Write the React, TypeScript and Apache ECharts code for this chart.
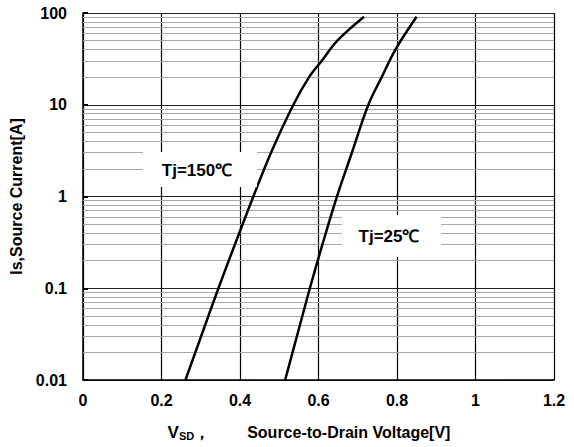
import React, { useEffect, useRef } from "react";
import * as echarts from "echarts";

// Tj = 150 ℃ curve: source-to-drain voltage [V] vs source current [A]
const v150 = [0.261, 0.301, 0.345, 0.387, 0.434, 0.479, 0.536, 0.576, 0.608, 0.648, 0.716];
const i150 = [0.01, 0.03, 0.1, 0.3, 1, 3, 10, 20, 30, 50, 91];

// Tj = 25 ℃ curve
const v25 = [0.515, 0.545, 0.578, 0.61, 0.647, 0.685, 0.727, 0.761, 0.796, 0.85];
const i25 = [0.01, 0.03, 0.1, 0.3, 1, 3, 10, 20, 40, 91];

const xTickLabels = ["0", "0.2", "0.4", "0.6", "0.8", "1", "1.2"];
const yTickLabels = ["0.01", "0.1", "1", "10", "100"];
const decades = [0.01, 0.1, 1, 10];
const minorMultipliers = [2, 3, 4, 5, 6, 7, 8, 9];

const FONT = '"Liberation Sans", Arial, Helvetica, sans-serif';

export default function App() {
  const ref = useRef<HTMLDivElement>(null);

  useEffect(() => {
    if (!ref.current) return;
    const chart = echarts.init(ref.current, null, { renderer: "svg" });

    const minorValues: number[] = [];
    decades.forEach((d) =>
      minorMultipliers.forEach((m) => minorValues.push(parseFloat((d * m).toPrecision(3))))
    );

    chart.setOption({
      animation: false,
      backgroundColor: "#fff",
      textStyle: { fontFamily: FONT },
      grid: { left: 83, right: 20, top: 13, bottom: 67, containLabel: false },
      xAxis: {
        type: "value",
        min: 0,
        max: 1.2,
        interval: 0.2,
        axisLine: { show: true, onZero: false, lineStyle: { color: "#000", width: 1.5 } },
        axisTick: { show: false },
        axisLabel: {
          margin: 12,
          fontSize: 16,
          fontWeight: "bold",
          color: "#000",
          fontFamily: FONT,
          formatter: (v: number) => xTickLabels[Math.round(v / 0.2)] ?? "",
        },
        splitLine: { show: true, lineStyle: { color: "#000", width: 1.2 } },
        name: "{v|V}{s|SD}{c|，}{t|Source-to-Drain Voltage[V]}",
        nameLocation: "middle",
        nameGap: 44,
        nameTextStyle: {
          fontFamily: FONT,
          fontWeight: "bold",
          fontSize: 16,
          color: "#000",
          padding: [0, 19, 0, 0],
          rich: {
            v: { fontSize: 17, fontWeight: "bold", color: "#000", fontFamily: FONT },
            s: { fontSize: 11, fontWeight: "bold", color: "#000", fontFamily: FONT, verticalAlign: "bottom" },
            c: { fontSize: 16, fontWeight: "bold", color: "#000", fontFamily: FONT },
            t: { fontSize: 16, fontWeight: "bold", color: "#000", fontFamily: FONT, padding: [0, 0, 0, 37] },
          },
        },
      },
      yAxis: {
        type: "log",
        logBase: 10,
        min: 0.01,
        max: 100,
        axisLine: { show: true, onZero: false, lineStyle: { color: "#000", width: 1.5 } },
        axisTick: { show: true, inside: true, length: 5, lineStyle: { color: "#000", width: 2 } },
        axisLabel: {
          margin: 16,
          fontSize: 16,
          fontWeight: "bold",
          color: "#000",
          fontFamily: FONT,
          formatter: (v: number) => yTickLabels[Math.round(Math.log10(v)) + 2] ?? "",
        },
        splitLine: { show: true, lineStyle: { color: "#222", width: 1.2 } },
        minorTick: { show: false },
        minorSplitLine: { show: false },
        name: "Is,Source Current[A]",
        nameLocation: "middle",
        nameGap: 53,
        nameTextStyle: { fontFamily: FONT, fontWeight: "bold", fontSize: 16, color: "#000" },
      },
      graphic: [
        { type: "rect", z: 100, shape: { x: 143, y: 152, width: 114, height: 35 }, style: { fill: "#fff" } },
        {
          type: "text",
          z: 101,
          x: 197,
          y: 170,
          style: {
            text: "Tj=150℃",
            font: `bold 17px ${FONT}`,
            fill: "#000",
            align: "center",
            verticalAlign: "middle",
          },
        },
        { type: "rect", z: 100, shape: { x: 342, y: 215, width: 99, height: 42 }, style: { fill: "#fff" } },
        {
          type: "text",
          z: 101,
          x: 389,
          y: 236,
          style: {
            text: "Tj=25℃",
            font: `bold 17px ${FONT}`,
            fill: "#000",
            align: "center",
            verticalAlign: "middle",
          },
        },
      ],
      series: [
        {
          type: "line",
          name: "minor",
          data: [],
          silent: true,
          z: 1,
          markLine: {
            silent: true,
            symbol: "none",
            animation: false,
            label: { show: false },
            lineStyle: { color: "#a8a8a8", type: "solid", width: 1.2 },
            data: minorValues.map((y) => ({ yAxis: y })),
          },
        },
        {
          type: "line",
          name: "Tj=150℃",
          data: v150.map((v, i) => [v, i150[i]]),
          showSymbol: false,
          smooth: 0.35,
          z: 5,
          lineStyle: { color: "#000", width: 2.5 },
        },
        {
          type: "line",
          name: "Tj=25℃",
          data: v25.map((v, i) => [v, i25[i]]),
          showSymbol: false,
          smooth: 0.35,
          z: 5,
          lineStyle: { color: "#000", width: 2.5 },
        },
      ],
    });

    return () => chart.dispose();
  }, []);

  return (
    <div
      ref={ref}
      style={{ position: "absolute", left: 0, top: 0, width: 574, height: 447, background: "#fff" }}
    />
  );
}
